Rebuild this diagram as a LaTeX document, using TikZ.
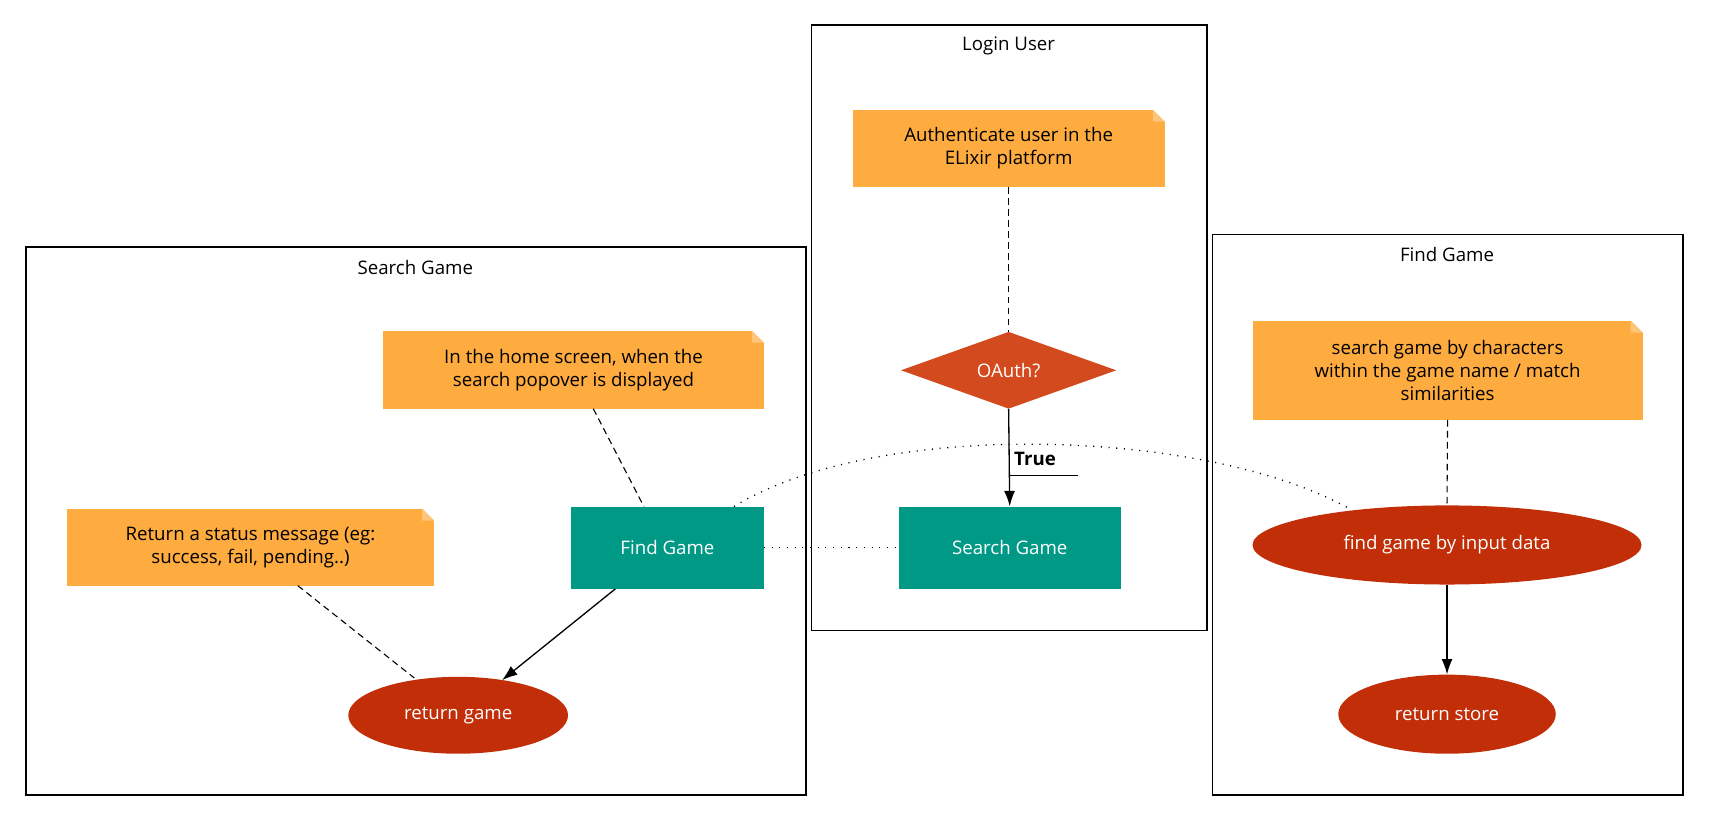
\documentclass[tikz,border=0pt]{standalone}
\usepackage{fontspec}
\setmainfont{Open Sans}
\usetikzlibrary{shapes.geometric,arrows.meta}
\definecolor{noteC}{HTML}{FEAB40}
\definecolor{teal}{HTML}{009985}
\definecolor{diaC}{HTML}{D24A1E}
\definecolor{ellC}{HTML}{C12E08}
\begin{document}
\begin{tikzpicture}[x=1pt,y=-1pt,
  every node/.style={font=\fontsize{17}{21}\selectfont},
  cluster/.style={draw,line width=1.3pt,fill=none},
  note/.style={fill=noteC,align=center,inner sep=0pt},
  box/.style={fill=teal,text=white,inner sep=0pt},
  ell/.style={ellipse,fill=ellC,text=white,inner sep=0pt},
  dia/.style={diamond,fill=diaC,text=white,inner sep=0pt,aspect=2.8},
  dsh/.style={dashed,line width=1pt,dash pattern=on 6pt off 4pt},
  dot/.style={line width=1.2pt,dash pattern=on 1pt off 6pt},
  arr/.style={line width=1.2pt,-{Latex[length=14pt,width=10pt]}},
  fold/.style={fill=white}]
\useasboundingbox (0,0) rectangle (1560,756);
% clusters
\node[cluster,minimum width=360,minimum height=551,anchor=north west] (cl) at (738,22) {};
\node[cluster,minimum width=710,minimum height=499,anchor=north west] (cs) at (23,224) {};
\node[cluster,minimum width=428,minimum height=510,anchor=north west] (cf) at (1103,213) {};
\node (tl) at (918,42) {Login User};
\node (ts) at (378,243) {Search Game};
\node (tf) at (1317,232) {Find Game};
% notes
\node[note,minimum width=284,minimum height=70] (n1) at (918,135) {Authenticate user in the\\ ELixir platform};
\node[note,minimum width=346,minimum height=71] (n2) at (522,336.5) {In the home screen, when the\\ search popover is displayed};
\node[note,minimum width=334,minimum height=70] (n3) at (228,498) {Return a status message (eg:\\ success, fail, pending..)};
\node[note,minimum width=355,minimum height=90] (n4) at (1317.5,337) {search game by characters\\ within the game name / match\\ similarities};
\foreach \n in {n1,n2,n3,n4}{
  \fill[fold] (\n.north east) -- ++(-11,0) -- ++(11,11) -- cycle;
  \fill[noteC!70!white] (\n.north east) ++(-11,0) -- ++(11,11) -- ++(-11,0) -- cycle;
}
% shapes
\node[dia,minimum width=196,minimum height=70] (oa) at (918,337) {OAuth?};
\node[box,minimum width=202,minimum height=75] (sg) at (919,498.5) {Search Game};
\node[box,minimum width=175,minimum height=75] (fg) at (607.5,498.5) {Find Game};
\node[ell,minimum width=200,minimum height=70] (rg) at (417,651) {return game};
\node[ell,minimum width=354,minimum height=72] (fi) at (1317,496) {find game by input data};
\node[ell,minimum width=198,minimum height=72] (rs) at (1317,650) {return store};
% edges
\draw[dsh] (n1.south) -- (oa.north);
\draw[arr] (oa.south) -- node[right,font=\fontsize{17}{21}\selectfont\bfseries,inner sep=4pt,yshift=-1pt] (tt) {True} (sg.north);
\draw[line width=1.2pt] (918,433) -- (981,433);
\draw[dot] (fg.east) -- (sg.west);
\draw[dot] (668,461) .. controls (800,380) and (1100,390) .. (1230,464);
\draw[dsh] (540,372) -- (586,461);
\draw[dsh] (271,533) -- (377,617);
\draw[arr] (560,536) -- (457,619);
\draw[dsh] (n4.south) -- (fi.north);
\draw[arr] (fi.south) -- (rs.north);
\end{tikzpicture}
\end{document}
